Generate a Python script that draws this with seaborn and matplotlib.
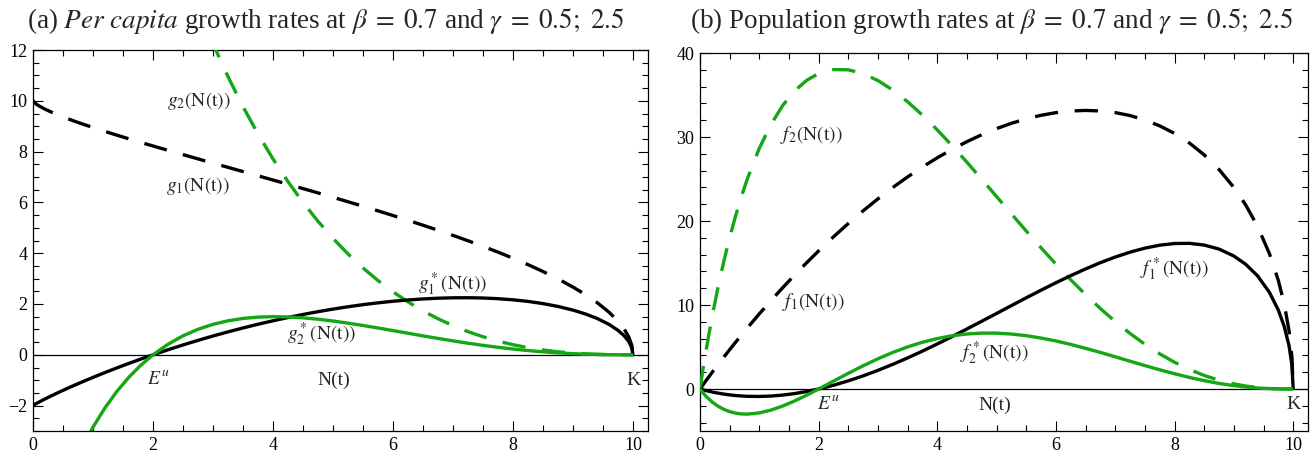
import matplotlib
matplotlib.use("Agg")
import matplotlib.pyplot as plt
from matplotlib.ticker import MultipleLocator
import seaborn as sns

# Population size N(t), shared by all curves
N = [0.0, 0.05, 0.1, 0.2, 0.3, 0.4, 0.5, 0.6, 0.7, 0.8, 1.0, 1.2, 1.4, 1.6, 1.8,
     2.0, 2.25, 2.5, 2.75, 3.0, 3.25, 3.5, 3.75, 4.0, 4.25, 4.5, 4.75, 5.0, 5.25,
     5.5, 5.75, 6.0, 6.25, 6.5, 6.75, 7.0, 7.25, 7.5, 7.75, 8.0, 8.25, 8.5, 8.75,
     9.0, 9.2, 9.4, 9.6, 9.75, 9.85, 9.93, 9.98, 10.0]

# (a) per capita growth rates
g1 = [10.0, 9.877, 9.799, 9.671, 9.561, 9.46, 9.366, 9.276, 9.19, 9.107, 8.947,
      8.794, 8.646, 8.501, 8.36, 8.221, 8.05, 7.881, 7.713, 7.546, 7.38, 7.214,
      7.048, 6.881, 6.713, 6.544, 6.373, 6.2, 6.025, 5.848, 5.667, 5.483, 5.295,
      5.102, 4.904, 4.701, 4.49, 4.271, 4.042, 3.803, 3.55, 3.279, 2.987, 2.666,
      2.381, 2.059, 1.678, 1.325, 1.026, 0.7, 0.374, 0.0]
g2 = [50.0, 46.99, 45.17, 42.3, 39.94, 37.88, 36.03, 34.34, 32.78, 31.32, 28.66,
      26.29, 24.15, 22.2, 20.42, 18.78, 16.9, 15.2, 13.65, 12.24, 10.95, 9.77,
      8.694, 7.711, 6.816, 5.999, 5.256, 4.582, 3.971, 3.419, 2.923, 2.478, 2.081,
      1.729, 1.419, 1.147, 0.912, 0.71, 0.54, 0.398, 0.282, 0.19, 0.119, 0.0674,
      0.0383, 0.0185, 0.0067, 0.002, 0.0006, 0.0001, 0.0, 0.0]
g1_star = [-2.0, -1.925, -1.861, -1.738, -1.622, -1.51, -1.4, -1.293, -1.189,
           -1.087, -0.889, -0.698, -0.514, -0.336, -0.165, 0.0, 0.198, 0.388,
           0.568, 0.74, 0.903, 1.057, 1.203, 1.34, 1.468, 1.588, 1.698, 1.799,
           1.891, 1.974, 2.046, 2.108, 2.159, 2.199, 2.228, 2.244, 2.247, 2.236,
           2.209, 2.165, 2.102, 2.016, 1.904, 1.759, 1.614, 1.433, 1.198, 0.963,
           0.755, 0.52, 0.28, 0.0]
g2_star = [-10.0, -9.16, -8.576, -7.604, -6.776, -6.045, -5.386, -4.788, -4.241,
           -3.738, -2.847, -2.086, -1.435, -0.878, -0.404, 0.0, 0.416, 0.747,
           1.005, 1.2, 1.339, 1.432, 1.484, 1.502, 1.491, 1.456, 1.401, 1.33,
           1.246, 1.154, 1.055, 0.953, 0.849, 0.745, 0.645, 0.548, 0.456, 0.372,
           0.295, 0.227, 0.167, 0.117, 0.0758, 0.0445, 0.026, 0.0129, 0.0048,
           0.0015, 0.0004, 0.0001, 0.0, 0.0]

# (b) population growth rates
f1 = [0.0, 0.494, 0.98, 1.934, 2.868, 3.784, 4.683, 5.566, 6.433, 7.286, 8.947,
      10.553, 12.104, 13.602, 15.048, 16.442, 18.113, 19.703, 21.211, 22.638,
      23.985, 25.249, 26.43, 27.524, 28.53, 29.448, 30.272, 31.0, 31.631, 32.164,
      32.585, 32.898, 33.094, 33.163, 33.102, 32.907, 32.553, 32.033, 31.326,
      30.424, 29.288, 27.872, 26.136, 23.994, 21.905, 19.355, 16.109, 12.919,
      10.106, 6.951, 3.733, 0.0]
f2 = [0.0, 2.35, 4.517, 8.46, 11.982, 15.152, 18.015, 20.604, 22.946, 25.056,
      28.66, 31.548, 33.81, 35.52, 36.756, 37.56, 38.025, 38.0, 37.538, 36.72,
      35.588, 34.195, 32.603, 30.844, 28.968, 26.996, 24.966, 22.91, 20.848,
      18.805, 16.807, 14.868, 13.006, 11.239, 9.578, 8.029, 6.612, 5.325, 4.185,
      3.184, 2.327, 1.615, 1.041, 0.607, 0.352, 0.174, 0.064, 0.02, 0.006, 0.001,
      0.0, 0.0]
f1_star = [0.0, -0.096, -0.186, -0.348, -0.487, -0.604, -0.7, -0.776, -0.832,
           -0.87, -0.889, -0.838, -0.72, -0.538, -0.297, 0.0, 0.446, 0.97, 1.562,
           2.22, 2.935, 3.7, 4.511, 5.36, 6.239, 7.146, 8.066, 8.995, 9.928,
           10.857, 11.765, 12.648, 13.494, 14.294, 15.039, 15.708, 16.291, 16.77,
           17.12, 17.32, 17.342, 17.136, 16.66, 15.831, 14.849, 13.47, 11.501,
           9.389, 7.437, 5.164, 2.794, 0.0]
f2_star = [0.0, -0.458, -0.858, -1.521, -2.033, -2.418, -2.693, -2.873, -2.969,
           -2.99, -2.847, -2.503, -2.009, -1.405, -0.727, 0.0, 0.936, 1.868,
           2.764, 3.6, 4.352, 5.012, 5.565, 6.008, 6.337, 6.552, 6.655, 6.65,
           6.542, 6.347, 6.066, 5.718, 5.306, 4.843, 4.354, 3.836, 3.306, 2.79,
           2.286, 1.816, 1.378, 0.995, 0.663, 0.401, 0.239, 0.121, 0.046, 0.015,
           0.004, 0.001, 0.0, 0.0]

BLACK = "black"
GREEN = "#14a614"
LW = 2.4
DASH = (0, (7, 5))

sns.set_style("ticks")
plt.rcParams["font.family"] = ["Liberation Serif", "DejaVu Serif"]
plt.rcParams["mathtext.fontset"] = "stix"

W, H = 1314, 457
fig = plt.figure(figsize=(W / 100, H / 100), dpi=100)
ax_a = fig.add_axes([33 / W, 26 / H, 615 / W, 381 / H])
ax_b = fig.add_axes([700 / W, 26 / H, 608 / W, 378 / H])


def curve(ax, y, color, dashed):
    sns.lineplot(x=N, y=y, ax=ax, color=color, linewidth=LW,
                 linestyle=DASH if dashed else "-", estimator=None, sort=False,
                 solid_capstyle="butt", dash_capstyle="butt", zorder=3)


def frame(ax, ylim, ymajor, yminor):
    ax.set_xlim(0, 10.25)
    ax.set_ylim(*ylim)
    ax.xaxis.set_major_locator(MultipleLocator(2))
    ax.xaxis.set_minor_locator(MultipleLocator(0.5))
    ax.yaxis.set_major_locator(MultipleLocator(ymajor))
    ax.yaxis.set_minor_locator(MultipleLocator(yminor))
    ax.tick_params(which="both", direction="in", top=True, right=True,
                   width=0.8, colors="black", labelsize=13, pad=4)
    ax.tick_params(which="major", length=7)
    ax.tick_params(which="minor", length=4)
    for s in ax.spines.values():
        s.set_linewidth(0.9)
        s.set_color("black")
    ax.axhline(0, color="black", linewidth=0.9, zorder=2)
    ax.set_xlabel("")
    ax.set_ylabel("")


LBL = 14

# (a)
curve(ax_a, g1, BLACK, True)
curve(ax_a, g2, GREEN, True)
curve(ax_a, g1_star, BLACK, False)
curve(ax_a, g2_star, GREEN, False)
frame(ax_a, (-3, 12), 2, 0.5)
ax_a.text(2.23, 10.0, r"$g_2(\mathrm{N(t)})$", fontsize=LBL, va="center")
ax_a.text(2.22, 6.65, r"$g_1(\mathrm{N(t)})$", fontsize=LBL, va="center")
ax_a.text(6.42, 2.76, r"$g_1^*(\mathrm{N(t)})$", fontsize=LBL, va="center")
ax_a.text(4.23, 0.79, r"$g_2^*(\mathrm{N(t)})$", fontsize=LBL, va="center")
ax_a.text(2.08, -1.0, r"$E^u$", fontsize=LBL, va="center", ha="center")
ax_a.text(5.02, -1.0, "N(t)", fontsize=LBL, va="center", ha="center")
ax_a.text(10.0, -1.0, "K", fontsize=LBL, va="center", ha="center")

# (b)
curve(ax_b, f1, BLACK, True)
curve(ax_b, f2, GREEN, True)
curve(ax_b, f1_star, BLACK, False)
curve(ax_b, f2_star, GREEN, False)
frame(ax_b, (-5, 40), 10, 2)
ax_b.text(1.35, 30.2, r"$f_2(\mathrm{N(t)})$", fontsize=LBL, va="center")
ax_b.text(1.38, 10.3, r"$f_1(\mathrm{N(t)})$", fontsize=LBL, va="center")
ax_b.text(7.41, 14.3, r"$f_1^*(\mathrm{N(t)})$", fontsize=LBL, va="center")
ax_b.text(4.39, 4.2, r"$f_2^*(\mathrm{N(t)})$", fontsize=LBL, va="center")
ax_b.text(2.17, -1.9, r"$E^u$", fontsize=LBL, va="center", ha="center")
ax_b.text(4.97, -1.9, "N(t)", fontsize=LBL, va="center", ha="center")
ax_b.text(10.0, -1.9, "K", fontsize=LBL, va="center", ha="center")

TITLE = 19.5
fig.text(326 / W, 1 - 21 / H,
         r"(a) $\it{Per\ capita}$ growth rates at $\beta \;=\; 0.7$ and $\gamma \;=\; 0.5;\ 2.5$",
         fontsize=TITLE, ha="center", va="center")
fig.text(991 / W, 1 - 21 / H,
         r"(b) Population growth rates at $\beta \;=\; 0.7$ and $\gamma \;=\; 0.5;\ 2.5$",
         fontsize=TITLE, ha="center", va="center")

fig.savefig("out.png", dpi=100)
